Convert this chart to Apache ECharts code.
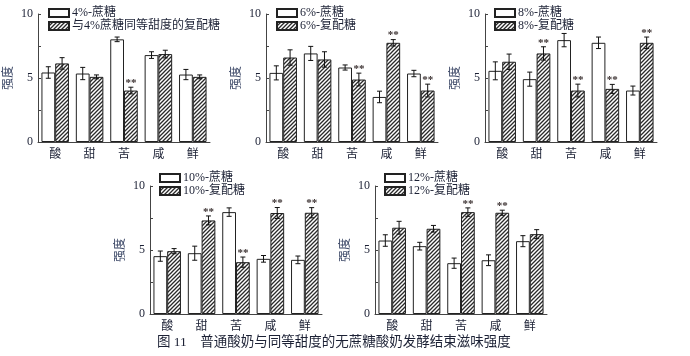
<!DOCTYPE html>
<html><head><meta charset="utf-8">
<script src="https://cdn.jsdelivr.net/npm/echarts@6/dist/echarts.min.js"></script>
<style>html,body{margin:0;padding:0;background:#fff}#c{width:690px;height:356px}</style>
</head><body><div id="c"></div>
<script>
// ---- data ----
const categories = ['酸', '甜', '苦', '咸', '鲜'];
const yTickLabels = ['0', '5', '10'];
const yAxisName = '强度';
const caption = '图 11    普通酸奶与同等甜度的无蔗糖酸奶发酵结束滋味强度';

const sucroseNames = ['4%-蔗糖', '6%-蔗糖', '8%-蔗糖', '10%-蔗糖', '12%-蔗糖'];
const blendNames = ['与4%蔗糖同等甜度的复配糖', '6%-复配糖', '8%-复配糖', '10%-复配糖', '12%-复配糖'];

const sucrose4 = [5.43, 5.35, 8.02, 6.79, 5.27];
const sucrose4Err = [0.45, 0.48, 0.18, 0.26, 0.40];
const blend4 = [6.14, 5.09, 4.02, 6.87, 5.09];
const blend4Err = [0.45, 0.15, 0.26, 0.30, 0.15];
const blend4Sig = [0, 0, 1, 0, 0];

const sucrose6 = [5.40, 6.92, 5.82, 3.52, 5.35];
const sucrose6Err = [0.55, 0.55, 0.20, 0.45, 0.25];
const blend6 = [6.60, 6.45, 4.88, 7.75, 4.02];
const blend6Err = [0.60, 0.60, 0.50, 0.25, 0.50];
const blend6Sig = [0, 0, 1, 1, 1];

const sucrose8 = [5.56, 4.91, 7.96, 7.75, 4.02];
const sucrose8Err = [0.70, 0.55, 0.52, 0.45, 0.35];
const blend8 = [6.27, 6.92, 4.02, 4.15, 7.75];
const blend8Err = [0.60, 0.52, 0.50, 0.35, 0.45];
const blend8Sig = [0, 1, 1, 1, 1];

const sucrose10 = [4.52, 4.75, 7.96, 4.31, 4.23];
const sucrose10Err = [0.40, 0.55, 0.33, 0.26, 0.30];
const blend10 = [4.91, 7.31, 4.05, 7.89, 7.91];
const blend10Err = [0.20, 0.35, 0.40, 0.43, 0.40];
const blend10Sig = [0, 1, 1, 1, 1];

const sucrose12 = [5.74, 5.30, 3.97, 4.20, 5.69];
const sucrose12Err = [0.45, 0.30, 0.40, 0.42, 0.43];
const blend12 = [6.74, 6.66, 7.96, 7.91, 6.24];
const blend12Err = [0.50, 0.26, 0.33, 0.20, 0.35];
const blend12Sig = [0, 0, 1, 1, 0];

// ---- layout / style ----
const panels = [
  {s: sucrose4, se: sucrose4Err, b: blend4, be: blend4Err, sig: blend4Sig, left: 38, top: 14, lx: 48, ly: 7},
  {s: sucrose6, se: sucrose6Err, b: blend6, be: blend6Err, sig: blend6Sig, left: 266, top: 14, lx: 276, ly: 7},
  {s: sucrose8, se: sucrose8Err, b: blend8, be: blend8Err, sig: blend8Sig, left: 485, top: 14, lx: 494, ly: 7},
  {s: sucrose10, se: sucrose10Err, b: blend10, be: blend10Err, sig: blend10Sig, left: 150, top: 186, lx: 159, ly: 172},
  {s: sucrose12, se: sucrose12Err, b: blend12, be: blend12Err, sig: blend12Sig, left: 375, top: 186, lx: 384, ly: 172}
];
const GW = 172, GH = 128;
const TXT = '#1c2135';
const FONT = '"Liberation Serif", "Noto Sans CJK SC", serif';
const CJK = '"Noto Sans CJK SC", sans-serif';

function hatch() {
  const c = document.createElement('canvas');
  c.width = 4; c.height = 4;
  const g = c.getContext('2d');
  g.fillStyle = '#fff'; g.fillRect(0, 0, 4, 4);
  g.strokeStyle = '#2a2a2a'; g.lineWidth = 1.3;
  g.beginPath();
  g.moveTo(-1, 5); g.lineTo(5, -1);
  g.moveTo(-1, 1); g.lineTo(1, -1);
  g.moveTo(3, 5); g.lineTo(5, 3);
  g.stroke();
  return {image: c, repeat: 'repeat'};
}
const hatchPattern = hatch();

const grid = [], xAxis = [], yAxis = [], series = [], legend = [];
panels.forEach((p, k) => {
  grid.push({left: p.left, top: p.top, width: GW, height: GH});
  xAxis.push({
    type: 'category', gridIndex: k, data: categories,
    axisLine: {lineStyle: {color: '#444', width: 1}},
    axisTick: {inside: true, length: 2, lineStyle: {color: '#444'}},
    axisLabel: {color: TXT, fontSize: 12, fontFamily: CJK, margin: 5}
  });
  yAxis.push({
    type: 'value', gridIndex: k, min: 0, max: 10, interval: 2.5,
    name: yAxisName, nameLocation: 'middle', nameGap: 25, nameRotate: 90,
    nameTextStyle: {color: '#3b4766', fontSize: 12, fontFamily: CJK},
    axisLine: {show: true, lineStyle: {color: '#444', width: 1}},
    axisTick: {show: true, inside: true, length: 3, lineStyle: {color: '#444'}},
    splitLine: {show: false},
    axisLabel: {
      color: TXT, fontSize: 12, fontFamily: FONT, margin: 5,
      formatter: v => yTickLabels.indexOf(String(v)) >= 0 ? String(v) : ''
    }
  });
  const sName = sucroseNames[k], bName = blendNames[k];
  series.push({
    type: 'bar', name: sName, xAxisIndex: k, yAxisIndex: k, data: p.s,
    barWidth: '40%', barGap: '0%',
    itemStyle: {color: '#fff', borderColor: '#222', borderWidth: 1}
  });
  series.push({
    type: 'bar', name: bName, xAxisIndex: k, yAxisIndex: k, data: p.b,
    barWidth: '40%', barGap: '0%',
    itemStyle: {color: hatchPattern, borderColor: '#222', borderWidth: 1}
  });
  [[p.s, p.se, null, -1], [p.b, p.be, p.sig, 1]].forEach(([vals, errs, sig, side]) => {
    series.push({
      type: 'custom', xAxisIndex: k, yAxisIndex: k, silent: true, z: 5,
      data: vals.map((v, i) => [i, v, errs[i], sig ? sig[i] : 0]),
      encode: {x: 0, y: 1},
      renderItem: (params, api) => {
        const i = api.value(0), v = api.value(1), e = api.value(2), s = api.value(3);
        const band = api.size([1, 0])[0];
        const x = api.coord([i, v])[0] + side * band * 0.2;
        const yt = api.coord([i, v + e])[1];
        const yb = api.coord([i, v - e])[1];
        const cw = 2.5;
        const st = {stroke: '#111', lineWidth: 1};
        const children = [
          {type: 'line', shape: {x1: x, y1: yt, x2: x, y2: yb}, style: st},
          {type: 'line', shape: {x1: x - cw, y1: yt, x2: x + cw, y2: yt}, style: st},
          {type: 'line', shape: {x1: x - cw, y1: yb, x2: x + cw, y2: yb}, style: st}
        ];
        if (s) {
          children.push({type: 'text', style: {
            text: '**', x: x, y: yt - 4, align: 'center', verticalAlign: 'middle',
            fill: '#3a3030', font: 'bold 11px "Liberation Serif", serif'
          }});
        }
        return {type: 'group', children};
      }
    });
  });
  legend.push({
    orient: 'vertical', left: p.lx, top: p.ly, padding: 0, itemGap: 1,
    itemWidth: 20, itemHeight: 8, icon: 'rect',
    data: [sName, bName],
    textStyle: {color: TXT, fontSize: 12, fontFamily: FONT, lineHeight: 12, padding: [0, 0, 0, -2]},
    selectedMode: false
  });
});

const chart = echarts.init(document.getElementById('c'), null, {renderer: 'canvas'});
chart.setOption({
  animation: false,
  backgroundColor: '#fff',
  grid, xAxis, yAxis, series, legend,
  graphic: [{
    type: 'text', left: 157, top: 336,
    style: {text: caption, fill: TXT, font: '13.5px "Liberation Serif", "Noto Sans CJK SC", serif'}
  }]
});
</script></body></html>
